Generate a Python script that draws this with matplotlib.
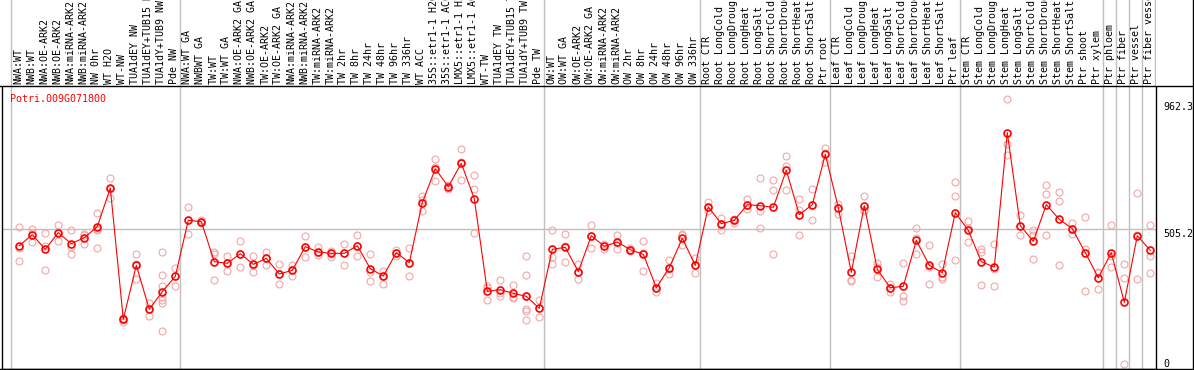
import numpy as np
import matplotlib.pyplot as plt
from matplotlib.lines import Line2D

labels = ['NWA:WT', 'NWB:WT', 'NWA:OE-ARK2', 'NWB:OE-ARK2', 'NWA:miRNA-ARK2', 'NWB:miRNA-ARK2',
          'NW 0hr', 'WT H2O', 'WT-NW', 'TUA1dEY NW', 'TUA1dEY+TUB15 NW', 'TUA1dY+TUB9 NW', 'Pde NW',
          'NWA:WT GA', 'NWBWT GA', 'TW:WT', 'TW:WT GA', 'NWA:OE-ARK2 GA', 'NWB:OE-ARK2 GA',
          'TW:OE-ARK2', 'TW:OE-ARK2 GA', 'NWA:miRNA-ARK2', 'NWB:miRNA-ARK2', 'TW:miRNA-ARK2',
          'TW:miRNA-ARK2', 'TW 2hr', 'TW 8hr', 'TW 24hr', 'TW 48hr', 'TW 96hr', 'TW 336hr', 'WT ACC',
          '35S::etr1-1 H2O', '35S::etr1-1 ACC', 'LMX5::etr1-1 H2O', 'LMX5::etr1-1 ACC', 'WT-TW',
          'TUA1dEY TW', 'TUA1dEY+TUB15 TW', 'TUA1dY+TUB9 TW', 'Pde TW',
          'OW:WT', 'OW:WT GA', 'OW:OE-ARK2', 'OW:OE-ARK2 GA', 'OW:miRNA-ARK2', 'OW:miRNA-ARK2',
          'OW 2hr', 'OW 8hr', 'OW 24hr', 'OW 48hr', 'OW 96hr', 'OW 336hr',
          'Root CTR', 'Root LongCold', 'Root LongDrought', 'Root LongHeat', 'Root LongSalt',
          'Root ShortCold', 'Root ShortDrought', 'Root ShortHeat', 'Root ShortSalt', 'Ptr root',
          'Leaf CTR', 'Leaf LongCold', 'Leaf LongDrought', 'Leaf LongHeat', 'Leaf LongSalt',
          'Leaf ShortCold', 'Leaf ShortDrought', 'Leaf ShortHeat', 'Leaf ShortSalt', 'Ptr leaf',
          'Stem CTR', 'Stem LongCold', 'Stem LongDrought', 'Stem LongHeat', 'Stem LongSalt',
          'Stem ShortCold', 'Stem ShortDrought', 'Stem ShortHeat', 'Stem ShortSalt', 'Ptr shoot',
          'Ptr xylem', 'Ptr phloem', 'Ptr fiber', 'Ptr vessel', 'Ptr fiber vessel']

# index of first sample in each group (group separators)
group_starts = [0, 13, 41, 53, 63, 73, 84, 85, 86, 87, 88]

means = [444, 483.6, 430.8, 490.8, 451.2, 472.8, 512.4, 651.6, 178.8, 373.2,
         214.8, 278.4, 333.6, 535.2, 530.4, 386.4, 380.4, 415.2, 376.8, 398.4,
         342, 355.2, 440.4, 421.2, 416.4, 416.4, 444, 361.2, 334.8, 418.8,
         382.8, 598.8, 721.2, 656.4, 740.4, 613.2, 279.6, 285.6, 272.4, 261.6,
         218.4, 430.8, 438, 350.4, 480, 441.6, 457.2, 429.6, 412.8, 292.8,
         364.8, 470.4, 373.2, 583.2, 523.2, 535.2, 591.6, 588, 582, 715.2,
         555.6, 591.6, 772.8, 580.8, 348, 588, 358.8, 292.8, 297.6, 463.2,
         373.2, 346.8, 562.8, 499.2, 386.4, 367.2, 850.8, 516, 459.6, 591.6,
         538.8, 505.2, 418.8, 328.8, 418.8, 240, 480, 427.2]

reps = [[510, 434.4, 390], [502.8, 489.6, 457.2], [490.8, 441.6, 357.6], [517.2, 494.4, 460.8],
        [499.2, 439.2, 415.2], [486, 482.4, 450], [562.8, 505.2, 499.2, 436.8], [688.8, 649.2, 615.6],
        [183.6, 175.2, 169.2], [415.2, 376.8, 325.2], [237.6, 214.8, 190.8],
        [422.4, 339.6, 298.8, 259.2, 249.6, 238.8, 135.6], [363.6, 333.6, 300],
        [584.4, 535.2, 486], [535.2, 530.4, 525.6], [421.2, 415.2, 321.6], [405.6, 380.4, 354],
        [459.6, 415.2, 368.4], [405.6, 375.6, 349.2], [422.4, 398.4, 373.2], [378, 342, 304.8],
        [373.2, 355.2, 334.8], [480, 440.4, 404.4], [438, 421.2, 410.4], [423.6, 416.4, 404.4],
        [451.2, 416.4, 375.6], [483.6, 444, 408], [415.2, 349.2, 318], [351.6, 334.8, 307.2],
        [429.6, 418.8, 406.8], [434.4, 382.8, 336], [621.6, 607.2, 567.6], [757.2, 727.2, 678],
        [663.6, 656.4, 649.2], [793.2, 746.4, 681.6], [699.6, 649.2, 490.8], [297.6, 291.6, 249.6],
        [321.6, 273.6, 261.6], [303.6, 259.2, 254.4], [405.6, 339.6, 261.6, 214.8, 208.8, 177.6],
        [249.6, 218.4, 187.2], [501.6, 403.2, 376.8], [484.8, 442.8, 386.4], [376.8, 350.4, 324],
        [519.6, 480, 436.8], [448.8, 441.6, 433.2], [483.6, 454.8, 433.2], [434.4, 429.6, 424.8],
        [462, 418.8, 354], [309.6, 292.8, 278.4], [393.6, 358.8, 342], [484.8, 481.2, 445.2],
        [398.4, 373.2, 346.8], [600, 583.2, 567.6], [544.8, 523.2, 501.6], [538.8, 535.2, 525.6],
        [610.8, 589.2, 574.8], [687.6, 568.8, 508.8], [681.6, 645.6, 415.2], [768, 732, 645.6],
        [610.8, 571.2, 483.6], [646.8, 590.4, 537.6], [795.6, 777.6, 745.2], [595.2, 580.8, 559.2],
        [406.8, 321.6, 315.6], [624, 571.2, 568.8], [380.4, 366, 330], [307.2, 292.8, 277.2],
        [380.4, 264, 244.8], [506.4, 470.4, 415.2], [445.2, 367.2, 307.2], [376.8, 331.2, 322.8],
        [674.4, 622.8, 393.6], [531.6, 507.6, 458.4], [433.2, 421.2, 302.4], [448.8, 361.2, 297.6],
        [973.2, 808.8, 769.2], [555.6, 516, 482.4], [499.2, 482.4, 397.2], [661.2, 631.2, 483.6],
        [638.4, 603.6, 373.2], [525.6, 505.2, 487.2], [546, 432, 282], [350.4, 345.6, 289.2],
        [519.6, 405.6, 367.2], [376.8, 328.8, 16.8], [632.4, 482.4, 325.2], [519.6, 405.6, 346.8]]

gene = 'Potri.009G071800'
ytick_vals = [962.3, 505.2, 0]
ytick_txt = ['962.3', '505.2', '0']

W, H = 1194., 370.
mono = 'DejaVu Sans Mono'
fs = 7.2
grey = '#c0c0c0'

fig = plt.figure(figsize=(W / 100, H / 100), dpi=100)

# pixel layout: column k centred at 19.3 + 13k, plot area 1.5..1155.7 x 87..369
x0, dx = 19.3, 13.0
left_px, right_px = 1.5, 1155.7
xlim = ((left_px - x0) / dx, (right_px - x0) / dx)

ax = fig.add_axes([left_px / W, 1 - 369 / H, (right_px - left_px) / W, (369 - 87) / H])
ax.set_xlim(*xlim)
ax.set_ylim(0, 1015.2)
ax.set_xticks([])
ax.set_yticks([])
for s in ax.spines.values():
    s.set_color('black')
    s.set_linewidth(1.0)
ax.spines['top'].set_visible(False)

sep_off = -8.7 / dx
for g in group_starts[:-1]:
    ax.axvline(g + sep_off, color=grey, lw=1, zorder=0)
ax.axhline(505.2, color=grey, lw=1, zorder=0)

xs = np.arange(len(means))
for i, r in enumerate(reps):
    ax.plot([i] * len(r), r, 'o', ms=5.0, mfc='none', mec='#f2a6a6', mew=0.8, zorder=2)
ax.plot(xs, means, '-', color='red', lw=0.8, zorder=3)
ax.plot(xs, means, 'o', ms=5.0, mfc='none', mec='red', mew=1.2, zorder=4)

ax.text(0.007, 0.975, gene, transform=ax.transAxes, color='red', family=mono,
        fontsize=fs, ha='left', va='top')

# right side value labels
xlab = (1163 - x0) / dx
for v, t in zip(ytick_vals, ytick_txt):
    ax.text(xlab, v, t, family=mono, fontsize=fs, ha='left',
            va='bottom' if v == 0 else 'top', clip_on=False)

# header with rotated sample names
hx = fig.add_axes([left_px / W, 1 - 86 / H, (right_px - left_px) / W, 86 / H])
hx.set_xlim(*xlim)
hx.set_ylim(0, 86)
hx.axis('off')
for g in group_starts:
    hx.axvline(g + sep_off, color=grey, lw=1, zorder=0)
for i, lab in enumerate(labels):
    hx.text(i - 1.0 / dx, 2.5, lab, rotation=90, family=mono, fontsize=fs,
            ha='center', va='bottom', clip_on=False)

fig.add_artist(Line2D([0, 1], [1 - 86 / H, 1 - 86 / H], color='black', lw=1))
fig.add_artist(Line2D([0, 1], [1 - 369 / H, 1 - 369 / H], color='black', lw=1))
fig.add_artist(Line2D([1193 / W, 1193 / W], [0, 1], color='black', lw=1))

fig.savefig('out.png', dpi=100)
